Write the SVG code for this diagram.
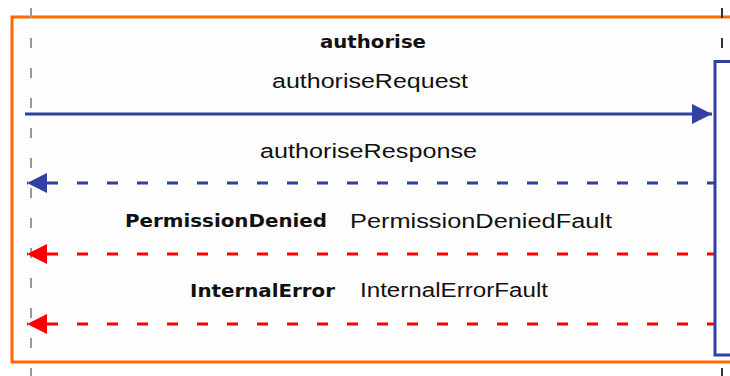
<svg xmlns="http://www.w3.org/2000/svg" width="730" height="376" viewBox="0 0 730 376">
  <style>
    .lifeline { fill: none; stroke-width: 2; stroke-dasharray: 10 20; stroke-dashoffset: -8; }
    .msg { fill: none; stroke-width: 3; }
    .blue { stroke: #3041a1; }
    .red { stroke: #ff0000; }
    .dashed { stroke-dasharray: 11 19; stroke-dashoffset: 10; }
    .bold { font-family: "DejaVu Sans", Verdana, sans-serif; font-weight: bold; font-size: 17px; fill: #111; }
    .plain { font-family: "Liberation Sans", Arial, sans-serif; font-size: 20px; fill: #111; }
  </style>
  <defs>
    <marker id="headBlue" markerUnits="userSpaceOnUse" markerWidth="20" markerHeight="20" refX="20" refY="10" orient="auto-start-reverse" viewBox="0 0 20 20">
      <path d="M0,0 L20,10 L0,20 Z" fill="#3041a1"/>
    </marker>
    <marker id="headRed" markerUnits="userSpaceOnUse" markerWidth="20" markerHeight="20" refX="20" refY="10" orient="auto-start-reverse" viewBox="0 0 20 20">
      <path d="M0,0 L20,10 L0,20 Z" fill="#ff0000"/>
    </marker>
  </defs>

  <rect x="0" y="0" width="730" height="376" fill="#ffffff"/>

  <!-- combined fragment frame -->
  <g id="fragment">
    <rect x="12" y="17" width="740" height="345" fill="#fdfdfd" stroke="#ff6a00" stroke-width="3"/>
    <text class="bold" x="320" y="48" textLength="106" lengthAdjust="spacingAndGlyphs">authorise</text>
  </g>

  <!-- lifelines -->
  <g id="caller">
    <line class="lifeline" x1="31" y1="0" x2="31" y2="376" stroke="#999999"/>
  </g>
  <g id="service">
    <line class="lifeline" x1="722" y1="0" x2="722" y2="376" stroke="#333333"/>
    <rect x="715" y="61.5" width="40" height="293.5" fill="#ffffff" stroke="#3041a1" stroke-width="3"/>
  </g>

  <!-- messages -->
  <g id="connectors">
    <path class="msg blue" d="M25,114 L712,114" marker-end="url(#headBlue)"/>
    <path class="msg blue dashed" d="M27,183 L714,183" marker-start="url(#headBlue)"/>
    <path class="msg red dashed" d="M27,254 L714,254" marker-start="url(#headRed)"/>
    <path class="msg red dashed" d="M27,324 L714,324" marker-start="url(#headRed)"/>
  </g>

  <g id="labels">
    <text class="plain" x="272" y="88" textLength="196" lengthAdjust="spacingAndGlyphs">authoriseRequest</text>
    <text class="plain" x="260" y="158" textLength="217" lengthAdjust="spacingAndGlyphs">authoriseResponse</text>
    <text class="bold" x="125" y="227" textLength="202" lengthAdjust="spacingAndGlyphs">PermissionDenied</text>
    <text class="plain" x="350" y="228" textLength="262" lengthAdjust="spacingAndGlyphs">PermissionDeniedFault</text>
    <text class="bold" x="190" y="297" textLength="145" lengthAdjust="spacingAndGlyphs">InternalError</text>
    <text class="plain" x="360" y="297" textLength="188" lengthAdjust="spacingAndGlyphs">InternalErrorFault</text>
  </g>
</svg>
